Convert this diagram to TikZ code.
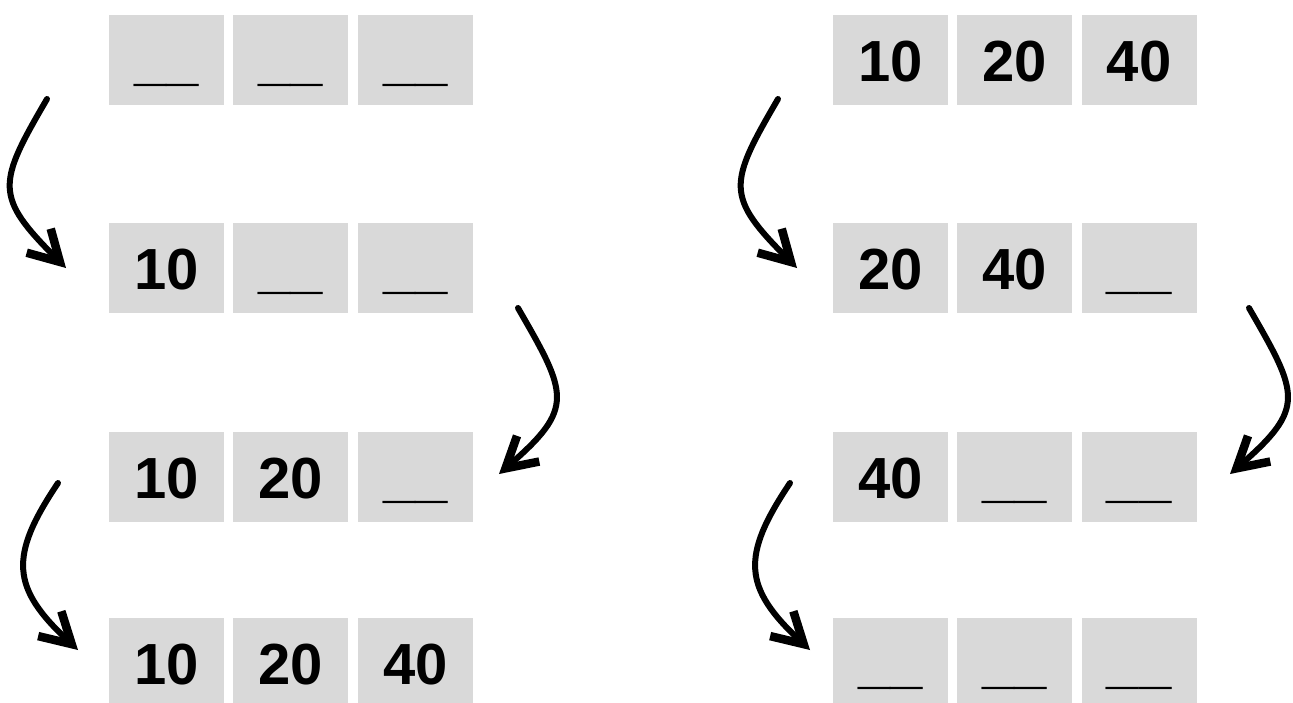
\documentclass[tikz,border=0pt]{standalone}
\usepackage{fontspec}
\setmainfont{Liberation Sans}
\usetikzlibrary{arrows.meta}
\definecolor{cellgray}{HTML}{D9D9D9}
\tikzset{
  cell/.style={fill=cellgray, minimum width=115pt, minimum height=90pt, inner sep=0pt,
    text height=42pt, text depth=0pt, font=\fontsize{58}{62}\selectfont\bfseries},
  curvearrow/.style={line width=6pt, line cap=round, -{Straight Barb[length=30pt, width=34pt, line width=8.5pt]}}
}
\newcommand{\blank}{\raisebox{2pt}{\_\_}}
\begin{document}
\begin{tikzpicture}[x=1pt,y=-1pt]
\useasboundingbox (0,0) rectangle (1293,702);
% left column
\node[cell] (a1) at (166.5,60) {\blank};
\node[cell] (a2) at (290.5,60) {\blank};
\node[cell] (a3) at (415.5,60) {\blank};
\node[cell] (b1) at (166.5,268) {10};
\node[cell] (b2) at (290.5,268) {\blank};
\node[cell] (b3) at (415.5,268) {\blank};
\node[cell] (c1) at (166.5,477) {10};
\node[cell] (c2) at (290.5,477) {20};
\node[cell] (c3) at (415.5,477) {\blank};
\node[cell] (d1) at (166.5,663) {10};
\node[cell] (d2) at (290.5,663) {20};
\node[cell] (d3) at (415.5,663) {40};
% right column
\node[cell] (e1) at (890.5,60) {10};
\node[cell] (e2) at (1014.5,60) {20};
\node[cell] (e3) at (1139,60) {40};
\node[cell] (f1) at (890.5,268) {20};
\node[cell] (f2) at (1014.5,268) {40};
\node[cell] (f3) at (1139,268) {\blank};
\node[cell] (g1) at (890.5,477) {40};
\node[cell] (g2) at (1014.5,477) {\blank};
\node[cell] (g3) at (1139,477) {\blank};
\node[cell] (h1) at (890.5,663) {\blank};
\node[cell] (h2) at (1014.5,663) {\blank};
\node[cell] (h3) at (1139,663) {\blank};
% arrow end points
\coordinate (s1) at (47,99);   \coordinate (t1) at (66,268);
\coordinate (s2) at (518,308); \coordinate (t2) at (499,474);
\coordinate (s3) at (58,483);  \coordinate (t3) at (78,650);
\coordinate (s4) at (778,99);  \coordinate (t4) at (797,268);
\coordinate (s5) at (1249,308);\coordinate (t5) at (1230,474);
\coordinate (s6) at (790,483); \coordinate (t6) at (810,650);
% arrows
\draw[curvearrow] (s1) .. controls (-3,184.6) and (-5.7,196.3) .. (t1);
\draw[curvearrow] (s2) .. controls (568,394.6) and (575,408) .. (t2);
\draw[curvearrow] (s3) .. controls (8.5,556.7) and (11.3,587.8) .. (t3);
\draw[curvearrow] (s4) .. controls (728,184.6) and (725.3,196.3) .. (t4);
\draw[curvearrow] (s5) .. controls (1299,394.6) and (1306,408) .. (t5);
\draw[curvearrow] (s6) .. controls (740.5,556.7) and (743.3,587.8) .. (t6);
\end{tikzpicture}
\end{document}
